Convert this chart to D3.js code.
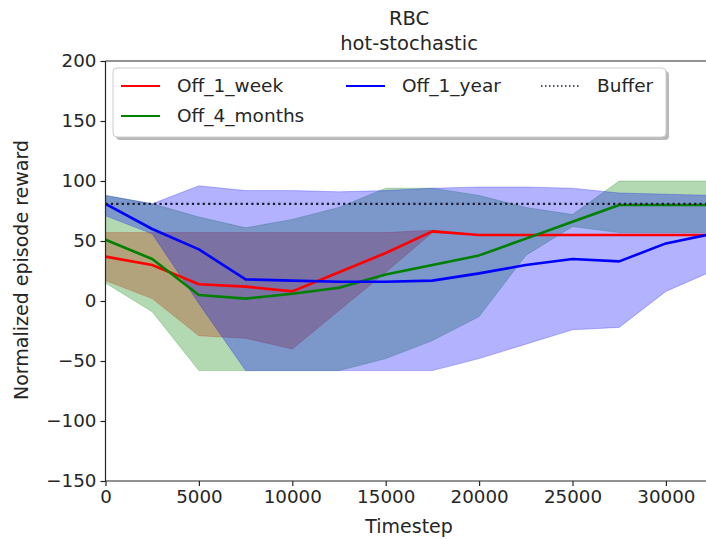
<!DOCTYPE html>
<html>
<head>
<meta charset="utf-8">
<script src="https://cdn.jsdelivr.net/npm/d3@7"></script>
<style>
  html, body { margin: 0; padding: 0; background: #fff; }
  svg { display: block; font-family: "DejaVu Sans", sans-serif; }
</style>
</head>
<body>
<svg id="chart" width="706" height="539"></svg>
<script>
// Training steps at which each run was evaluated
const steps = [0, 2500, 5000, 7500, 10000, 12500, 15000, 17500, 20000, 22500, 25000, 27500, 30000, 32500];

// Off_1_week: mean reward and min/max envelope
const weekMean = [37, 30, 14, 12, 8, 24, 40, 58, 55, 55, 55, 55, 55, 55];
const weekLow  = [17, 2, -29, -31, -40, -8, 24, 57, 55, 55, 55, 55, 55, 55];
const weekHigh = [57, 57, 57, 57, 57, 57, 57, 59, 55, 55, 55, 55, 55, 55];

// Off_4_months
const monthsMean = [51, 35, 5, 2, 6, 11, 22, 30, 38, 52, 66, 80, 80, 80];
const monthsLow  = [15, -9, -58, -58, -58, -58, -48, -33, -13, 38, 62, 57, 57, 57];
const monthsHigh = [88, 81, 70, 61, 68, 78, 94, 94, 88, 78, 72, 100, 100, 100];

// Off_1_year
const yearMean = [81, 60, 43, 18, 17, 16, 16, 17, 23, 30, 35, 33, 48, 56];
const yearLow  = [71, 56, -2, -58, -58, -58, -58, -58, -48, -36, -24, -22, 8, 25];
const yearHigh = [88, 81, 96, 92, 92, 91, 92, 94, 95, 95, 94, 90, 89, 88];

// Reference level of the buffer policy
const bufferLevel = 81;

const xTicks = [0, 5000, 10000, 15000, 20000, 25000, 30000];
const yTicks = [-150, -100, -50, 0, 50, 100, 150, 200];

const series = [
  { name: "Off_1_week",   color: "#ff0000", mean: weekMean,   low: weekLow,   high: weekHigh },
  { name: "Off_4_months", color: "#008000", mean: monthsMean, low: monthsLow, high: monthsHigh },
  { name: "Off_1_year",   color: "#0000ff", mean: yearMean,   low: yearLow,   high: yearHigh }
];

const svg = d3.select("#chart");
const padL = 105.5, padT = 61, padB = 481, padR = 712.6;

const x = d3.scaleLinear().domain([0, 32500]).range([padL, padR]);
const y = d3.scaleLinear().domain([-150, 200]).range([padB, padT]);

const plot = svg.append("g");

// Envelopes first, lines above them
series.forEach(s => {
  const area = d3.area()
    .x((d, i) => x(steps[i]))
    .y0((d, i) => y(s.low[i]))
    .y1((d, i) => y(s.high[i]));
  plot.append("path")
    .datum(s.mean)
    .attr("d", area)
    .attr("fill", s.color)
    .attr("fill-opacity", 0.3)
    .attr("stroke", s.color)
    .attr("stroke-opacity", 0.3)
    .attr("stroke-width", 0.8);
});

series.forEach(s => {
  const line = d3.line().x((d, i) => x(steps[i])).y(d => y(d));
  plot.append("path")
    .datum(s.mean)
    .attr("d", line)
    .attr("fill", "none")
    .attr("stroke", s.color)
    .attr("stroke-width", 2.6)
    .attr("stroke-linejoin", "round");
});

// Buffer reference line
plot.append("line")
  .attr("x1", x(0)).attr("x2", x(32500))
  .attr("y1", y(bufferLevel)).attr("y2", y(bufferLevel))
  .attr("stroke", "#1a1a2e")
  .attr("stroke-width", 2.2)
  .attr("stroke-dasharray", "2.2,3.2");

// Axes
const xAxis = d3.axisBottom(x).tickValues(xTicks).tickSize(5).tickPadding(4).tickFormat(d3.format("d"));
const yAxis = d3.axisLeft(y).tickValues(yTicks).tickSize(5).tickPadding(4)
  .tickFormat(d => d < 0 ? "\u2212" + Math.abs(d) : String(d));

const gx = svg.append("g").attr("transform", `translate(0,${padB})`).call(xAxis);
const gy = svg.append("g").attr("transform", `translate(${padL},0)`).call(yAxis);
[gx, gy].forEach(g => {
  g.selectAll("text").attr("font-size", 18.3).attr("fill", "#262626").attr("font-family", "DejaVu Sans");
  g.selectAll("line").attr("stroke", "#262626").attr("stroke-width", 1.2);
  g.select(".domain").attr("stroke", "#262626").attr("stroke-width", 1.2);
});
gx.select(".domain").attr("d", `M${padL},0H${padR}`);
gy.select(".domain").attr("d", `M0,${padB}V${padT}`);

// Top and right frame
svg.append("line").attr("x1", padL).attr("x2", padR).attr("y1", padT).attr("y2", padT)
  .attr("stroke", "#262626").attr("stroke-width", 1.2);
svg.append("line").attr("x1", padR).attr("x2", padR).attr("y1", padT).attr("y2", padB)
  .attr("stroke", "#262626").attr("stroke-width", 1.2);

// Axis titles
svg.append("text").attr("x", (padL + padR) / 2).attr("y", 533)
  .attr("text-anchor", "middle").attr("font-size", 19).attr("fill", "#262626").text("Timestep");
svg.append("text").attr("transform", `translate(28,${(padT + padB) / 2 - 1}) rotate(-90)`)
  .attr("text-anchor", "middle").attr("font-size", 19).attr("fill", "#262626").text("Normalized episode reward");

// Title
svg.append("text").attr("x", (padL + padR) / 2).attr("y", 25)
  .attr("text-anchor", "middle").attr("font-size", 19.5).attr("fill", "#262626").text("RBC");
svg.append("text").attr("x", (padL + padR) / 2).attr("y", 50)
  .attr("text-anchor", "middle").attr("font-size", 19.5).attr("fill", "#262626").text("hot-stochastic");

// Legend
const legend = svg.append("g");
const lx = 113, ly = 68, lw = 553, lh = 69;
legend.append("rect").attr("x", lx + 3).attr("y", ly + 3).attr("width", lw).attr("height", lh)
  .attr("rx", 4).attr("fill", "#8a8a8a").attr("opacity", 0.6);
legend.append("rect").attr("x", lx).attr("y", ly).attr("width", lw).attr("height", lh)
  .attr("rx", 4).attr("fill", "#fff").attr("stroke", "#cccccc").attr("stroke-width", 1);

const legendItems = [
  { name: "Off_1_week",   color: "#ff0000", dash: null,  sx: 121, tx: 177, cy: 86 },
  { name: "Off_4_months", color: "#008000", dash: null,  sx: 121, tx: 177, cy: 116 },
  { name: "Off_1_year",   color: "#0000ff", dash: null,  sx: 346, tx: 402, cy: 86 },
  { name: "Buffer",       color: "#1a1a2e", dash: "1.5,2.5", sx: 541, tx: 597, cy: 86 }
];
legendItems.forEach(it => {
  legend.append("line").attr("x1", it.sx).attr("x2", it.sx + 39)
    .attr("y1", it.cy).attr("y2", it.cy)
    .attr("stroke", it.color).attr("stroke-width", it.dash ? 1.5 : 2)
    .attr("stroke-dasharray", it.dash);
  legend.append("text").attr("x", it.tx).attr("y", it.cy).attr("dy", "0.35em")
    .attr("font-size", 18.5).attr("fill", "#262626").text(it.name);
});
</script>
</body>
</html>
